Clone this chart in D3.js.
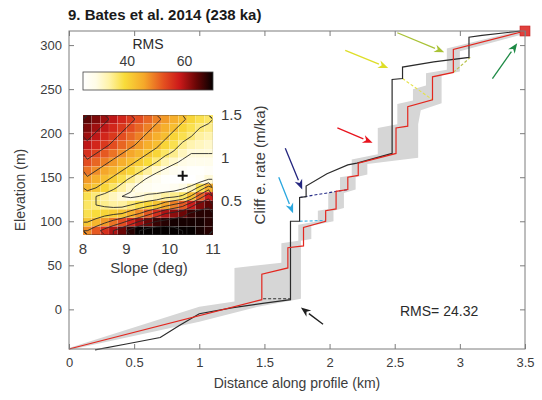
<!DOCTYPE html>
<html>
<head>
<meta charset="utf-8">
<script src="https://cdn.jsdelivr.net/npm/d3@7"></script>
<style>
body { margin: 0; background: #fff; }
text { font-family: "Liberation Sans", Arial, Helvetica, sans-serif; }
</style>
</head>
<body>
<svg id="chart" width="542" height="400"></svg>
<script>

// ---------- data ----------
var titleText = "9. Bates et al. 2014 (238 ka)";
var xTicks = [0, 0.5, 1, 1.5, 2, 2.5, 3, 3.5];
var yTicks = [0, 50, 100, 150, 200, 250, 300];

// observed profile (km, m)
var profile = [[0.2,-46],[0.45,-39],[0.70,-32],[0.85,-18],[1.0,-5],[1.26,2],[1.5,7],[1.70,11],
  [1.70,100],[1.77,100],[1.77,127],[1.82,128],[1.82,140],[1.98,154],[2.14,164],[2.21,166],
  [2.48,177],[2.48,261],[2.56,262],[2.56,275],[2.8,281],[3.07,286],[3.07,309],[3.17,311],[3.47,316]];

// best-fit model profile
var model = [[0,-45],[1.48,11],[1.48,40],[1.68,47],[1.68,70],[1.80,72],[1.80,93],[1.97,100],
  [1.97,112],[2.05,114],[2.05,134],[2.14,136],[2.14,150],[2.22,152],[2.22,166],[2.51,177],
  [2.51,206],[2.60,208],[2.60,230],[2.79,238],[2.79,264],[2.95,269],[2.95,295],[3.5,316]];

// grey envelope
var bandUpper = [[0,-44],[1.0,3],[1.27,9],[1.27,47],[1.63,53],[1.63,75],[1.76,78],[1.76,96],
  [1.91,100],[1.91,112],[1.99,114],[1.99,132],[2.08,135],[2.08,150],[2.17,152],[2.17,170],
  [2.37,176],[2.37,206],[2.52,210],[2.52,233],[2.64,237],[2.64,250],[2.74,254],[2.74,268],
  [2.90,272],[2.90,296],[3.5,318]];
var bandLower = [[0,-46],[1.0,-14],[1.45,3],[1.78,12],[1.78,78],[1.86,80],[1.86,95],[2.03,100],
  [2.03,112],[2.11,115],[2.11,132],[2.20,136],[2.20,150],[2.29,153],[2.29,165],[2.68,172],
  [2.68,210],[2.70,226],[2.86,234],[2.86,266],[3.0,270],[3.0,293],[3.5,313]];

// dashed connectors and arrows
var connectors = [
  [[1.49,12],[1.70,12]],
  [[1.77,100],[1.97,101]],
  [[1.77,127],[2.14,136]],
  [[2.56,262],[2.79,238]],
  [[2.95,269],[3.08,286]]
];
var arrows = [
  [[1.95,-17],[1.78,2]],
  [[1.61,150],[1.72,109]],
  [[1.66,183],[1.79,136]],
  [[2.06,206],[2.33,189]],
  [[2.12,294],[2.45,274]],
  [[2.52,314],[2.88,292]],
  [[3.25,262],[3.44,302]]
];
var startPoint = [3.5, 316];
var rmsLabel = "RMS= 24.32";

// inset: RMS misfit grid (rows = cliff erosion rate, top to bottom; cols = slope)
var slopes = [8.1,8.3,8.5,8.7,8.9,9.1,9.3,9.5,9.7,9.9,10.1,10.3,10.5,10.7,10.9];
var rates = [1.45,1.35,1.25,1.15,1.05,0.95,0.85,0.75,0.65,0.55,0.45,0.35,0.25,0.15];
var rmsGrid = [
  [65,63,61,59,57,55,53,51,49,47,45,43,40,38,37],
  [63,61,59,57,55,53,51,49,47,45,43,40,38,36,35],
  [61,59,57,55,53,51,49,47,45,43,40,38,36,34,33],
  [59,57,55,53,51,49,47,45,43,40,38,35,33,32,31],
  [56,54,52,50,48,46,44,42,40,37,35,32,30,30,30],
  [53,51,49,47,45,43,41,39,36,33,31,29,28,28,28],
  [50,48,46,44,42,40,37,34,31,29,27,26,25,25,26],
  [47,45,43,41,38,35,32,29,27,25,24,23,24,26,30],
  [44,42,40,37,34,31,28,27,26,26,27,29,32,38,45],
  [38,36,34,32,30,29,30,31,32,34,35,37,43,51,58],
  [37,36,35,34,34,36,38,40,42,46,49,52,58,63,65],
  [38,39,40,41,42,45,48,52,56,60,62,64,67,68,68],
  [42,44,47,50,53,57,61,64,67,68,69,69,69,69,68],
  [48,52,56,60,64,68,72,75,76,76,74,72,70,69,68]
];
var contourLevels = [30,36,42,48,54,60,66,72];
var bestFit = [10.3, 0.79];
var slopeTicks = [8, 9, 10, 11];
var rateTicks = [0.5, 1, 1.5];
var cbTicks = [40, 60];

// ---------- layout ----------
var svg = d3.select("#chart");
var margin = {top: 31, right: 17, bottom: 51, left: 69};
var W = 542, H = 400;
var x = d3.scaleLinear().domain([0, 3.5]).range([margin.left, W - margin.right]);
var y = d3.scaleLinear().domain([-45, 316]).range([H - margin.bottom, margin.top]);
var axisCol = "#7c7c7c", textCol = "#3c3c3c";

// title
svg.append("text").attr("x", 68).attr("y", 20)
  .attr("font-size", 15).attr("font-weight", "bold").attr("fill", "#1a1a1a")
  .text(titleText);

// grey envelope
var band = bandUpper.concat(bandLower.slice().reverse());
svg.append("path")
  .attr("d", d3.line().x(d => x(d[0])).y(d => y(d[1]))(band) + "Z")
  .attr("fill", "#d6d6d6");

// dashed connectors
var dashCols = ["#333333", "#3db3e6", "#232a86", "#e5e24a", "#b9c34a"];
connectors.forEach(function(c, i) {
  svg.append("line")
    .attr("x1", x(c[0][0])).attr("y1", y(c[0][1]))
    .attr("x2", x(c[1][0])).attr("y2", y(c[1][1]))
    .attr("stroke", dashCols[i]).attr("stroke-width", 1.1)
    .attr("stroke-dasharray", "3,2");
});

var line = d3.line().x(d => x(d[0])).y(d => y(d[1]));
svg.append("path").attr("d", line(profile))
  .attr("fill", "none").attr("stroke", "#2b2b2b").attr("stroke-width", 1.2);
svg.append("path").attr("d", line(model))
  .attr("fill", "none").attr("stroke", "#e3271f").attr("stroke-width", 1.2);

// start marker
svg.append("rect")
  .attr("x", x(startPoint[0]) - 5).attr("y", y(startPoint[1]) - 5)
  .attr("width", 10).attr("height", 10)
  .attr("fill", "#e0403c").attr("stroke", "#c02020").attr("stroke-width", 0.6);

// arrows
var arrowCols = ["#1e1e1e", "#2aa7df", "#24267f", "#e8141e", "#dede28", "#a9c236", "#1d8a45"];
arrows.forEach(function(a, i) {
  var x0 = x(a[0][0]), y0 = y(a[0][1]), x1 = x(a[1][0]), y1 = y(a[1][1]);
  var ang = Math.atan2(y1 - y0, x1 - x0), L = 10, hw = 4;
  var bx = x1 - L * Math.cos(ang), by = y1 - L * Math.sin(ang);
  svg.append("line").attr("x1", x0).attr("y1", y0).attr("x2", bx).attr("y2", by)
    .attr("stroke", arrowCols[i]).attr("stroke-width", 1.3);
  var p1 = [bx + hw * Math.sin(ang), by - hw * Math.cos(ang)];
  var p2 = [bx - hw * Math.sin(ang), by + hw * Math.cos(ang)];
  var nx = x1 - 0.7 * L * Math.cos(ang), ny = y1 - 0.7 * L * Math.sin(ang);
  svg.append("path")
    .attr("d", "M" + x1 + "," + y1 + "L" + p1 + "L" + nx + "," + ny + "L" + p2 + "Z")
    .attr("fill", arrowCols[i]);
});

// RMS label
svg.append("text").attr("x", 400).attr("y", 316).attr("font-size", 14)
  .attr("fill", "#2a2a2a").text(rmsLabel);

// axes (ticks inward, box)
function styleAxis(g) {
  g.select(".domain").remove();
  g.selectAll("line").attr("stroke", axisCol);
  g.selectAll("text").attr("fill", textCol).attr("font-size", 13)
    .attr("font-family", "Liberation Sans, Arial, sans-serif");
}
svg.append("g").attr("transform", "translate(0," + y.range()[0] + ")")
  .call(d3.axisBottom(x).tickValues(xTicks).tickSize(-5).tickPadding(9).tickFormat(d3.format("")))
  .call(styleAxis);
svg.append("g").attr("transform", "translate(0," + y.range()[1] + ")")
  .call(d3.axisTop(x).tickValues(xTicks).tickSize(-5).tickFormat(""))
  .call(styleAxis);
svg.append("g").attr("transform", "translate(" + x.range()[0] + ",0)")
  .call(d3.axisLeft(y).tickValues(yTicks).tickSize(-5).tickPadding(7))
  .call(styleAxis);
svg.append("g").attr("transform", "translate(" + x.range()[1] + ",0)")
  .call(d3.axisRight(y).tickValues(yTicks).tickSize(-5).tickFormat(""))
  .call(styleAxis);
svg.append("rect")
  .attr("x", x.range()[0]).attr("y", y.range()[1])
  .attr("width", x.range()[1] - x.range()[0]).attr("height", y.range()[0] - y.range()[1])
  .attr("fill", "none").attr("stroke", axisCol).attr("stroke-width", 1);

svg.append("text").attr("x", (x.range()[0] + x.range()[1]) / 2).attr("y", 388)
  .attr("text-anchor", "middle").attr("font-size", 14).attr("fill", textCol)
  .text("Distance along profile (km)");
svg.append("text").attr("transform", "translate(25,190) rotate(-90)")
  .attr("text-anchor", "middle").attr("font-size", 14).attr("fill", textCol)
  .text("Elevation (m)");

// ---------- inset ----------
var dS = slopes[1] - slopes[0], dR = rates[0] - rates[1];
var sx = d3.scaleLinear().domain([8, 11]).range([83, 213]);
var sy = d3.scaleLinear().domain([0.1, 1.5]).range([235, 115]);
var cmin = 24.5, cmax = 70;
var stops = ["#ffffff", "#fffce6", "#fff3a8", "#f9dc3a", "#f5a82a", "#e45020", "#cd1a1a", "#6a0606", "#050000"];
var stopT = [0, 0.1, 0.2, 0.32, 0.47, 0.62, 0.74, 0.87, 1];
var color = d3.scaleLinear()
  .domain(stopT.map(t => cmin + t * (cmax - cmin)))
  .range(stops).clamp(true);

var inset = svg.append("g");
rmsGrid.forEach(function(row, j) {
  row.forEach(function(v, i) {
    var x0 = sx(slopes[i] - dS / 2), x1 = sx(slopes[i] + dS / 2);
    var y0 = sy(rates[j] + dR / 2), y1 = sy(rates[j] - dR / 2);
    inset.append("rect").attr("x", x0).attr("y", y0)
      .attr("width", x1 - x0).attr("height", y1 - y0)
      .attr("fill", color(v))
      .attr("stroke", "rgba(255,255,255,0.18)").attr("stroke-width", 0.5);
  });
});

// contours
var nC = slopes.length, nR = rates.length;
var flat = [].concat.apply([], rmsGrid);
var cont = d3.contours().size([nC, nR]).thresholds(contourLevels)(flat);
var gx = d3.scaleLinear().domain([0, nC]).range([sx(slopes[0] - dS / 2), sx(slopes[nC - 1] + dS / 2)]);
var gy = d3.scaleLinear().domain([0, nR]).range([sy(rates[0] + dR / 2), sy(rates[nR - 1] - dR / 2)]);
var proj = d3.geoTransform({ point: function(px, py) { this.stream.point(gx(px), gy(py)); } });
svg.append("clipPath").attr("id", "hclip").append("rect")
  .attr("x", sx(8) + 0.8).attr("y", sy(1.5) + 0.8)
  .attr("width", sx(11) - sx(8) - 1.6).attr("height", sy(0.1) - sy(1.5) - 1.6);
inset.append("g").attr("clip-path", "url(#hclip)")
  .selectAll("path").data(cont).enter().append("path")
  .attr("d", d3.geoPath(proj))
  .attr("fill", "none").attr("stroke", "#2a2a2a").attr("stroke-width", 0.9);

// best fit marker
var bfx = sx(bestFit[0]), bfy = sy(bestFit[1]);
inset.append("path")
  .attr("d", "M" + (bfx - 5) + "," + bfy + "H" + (bfx + 5) + "M" + bfx + "," + (bfy - 5) + "V" + (bfy + 5))
  .attr("stroke", "#111").attr("stroke-width", 2);

// inset tick labels
slopeTicks.forEach(function(t) {
  inset.append("text").attr("x", sx(t)).attr("y", 254).attr("text-anchor", "middle")
    .attr("font-size", 15).attr("fill", textCol).text(t);
});
rateTicks.forEach(function(t) {
  inset.append("text").attr("x", 221).attr("y", sy(t) + 5)
    .attr("font-size", 15).attr("fill", textCol).text(t);
});
inset.append("text").attr("x", 149).attr("y", 273).attr("text-anchor", "middle")
  .attr("font-size", 15).attr("fill", textCol).text("Slope (deg)");
inset.append("text").attr("transform", "translate(265,165) rotate(-90)")
  .attr("text-anchor", "middle").attr("font-size", 15).attr("fill", textCol)
  .text("Cliff e. rate (m/ka)");

// colorbar
var cb = d3.scaleLinear().domain([cmin, cmax]).range([83, 213]);
var grad = svg.append("defs").append("linearGradient").attr("id", "cbgrad");
stopT.forEach(function(t, i) {
  grad.append("stop").attr("offset", (t * 100) + "%").attr("stop-color", stops[i]);
});
inset.append("rect").attr("x", cb.range()[0]).attr("y", 72)
  .attr("width", cb.range()[1] - cb.range()[0]).attr("height", 18)
  .attr("fill", "url(#cbgrad)").attr("stroke", "#444").attr("stroke-width", 0.8);
cbTicks.forEach(function(t) {
  inset.append("text").attr("x", cb(t)).attr("y", 66).attr("text-anchor", "middle")
    .attr("font-size", 14).attr("fill", textCol).text(t);
});
inset.append("text").attr("x", 148).attr("y", 49).attr("text-anchor", "middle")
  .attr("font-size", 14).attr("fill", "#2a2a2a").text("RMS");

</script>
</body>
</html>
